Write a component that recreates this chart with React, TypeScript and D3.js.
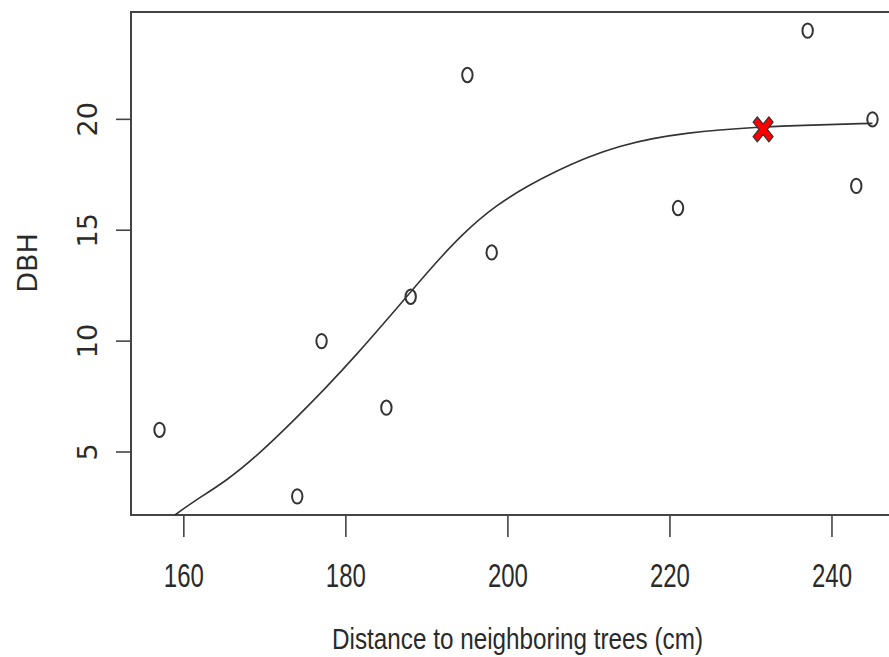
import React, { useEffect, useRef } from "react";
import * as d3 from "d3";

// observed points
const distance = [157, 174, 177, 185, 188, 195, 198, 221, 237, 243, 245];
const dbh = [6, 3, 10, 7, 12, 22, 14, 16, 24, 17, 20];

// fitted curve
const curveX = [158.9, 161.1, 165.3, 169.4, 173.5, 177.7, 181.7, 184.2, 187.5, 190.4, 194.4, 198.6, 202.7, 205.6, 209.8, 213.8, 217.9, 222.1, 226.2, 230.2, 236.0, 245.0];
const curveY = [2.16, 2.75, 3.7, 4.95, 6.4, 7.95, 9.55, 10.6, 12.0, 13.25, 14.85, 16.15, 17.05, 17.6, 18.3, 18.8, 19.15, 19.38, 19.53, 19.63, 19.73, 19.82];

// highlighted point
const markX = [231.5];
const markY = [19.55];

const xTicks = [160, 180, 200, 220, 240];
const yTicks = [5, 10, 15, 20];

const App = () => {
  const svgRef = useRef<SVGSVGElement>(null);

  useEffect(() => {
    const svg = d3.select(svgRef.current);
    svg.selectAll("*").remove();

    const left = 131, right = 901, top = 12, bottom = 515;
    const ink = "#2a2a2a";

    const x = d3.scaleLinear().domain([153.48, 248.52]).range([left, right]);
    const y = d3.scaleLinear().domain([2.16, 24.84]).range([bottom, top]);

    // box
    svg.append("rect")
      .attr("x", left).attr("y", top)
      .attr("width", right - left).attr("height", bottom - top)
      .attr("fill", "none").attr("stroke", "#444").attr("stroke-width", 2);

    // x axis
    const xa = svg.append("g");
    xa.selectAll("line").data(xTicks).join("line")
      .attr("x1", (d) => x(d)).attr("x2", (d) => x(d))
      .attr("y1", bottom).attr("y2", bottom + 22)
      .attr("stroke", "#444").attr("stroke-width", 1.6);
    xa.selectAll("text").data(xTicks).join("text")
      .attr("x", (d) => x(d) - 20).attr("y", 587)
      .attr("textLength", 40).attr("lengthAdjust", "spacingAndGlyphs")
      .attr("font-family", "Liberation Sans, Arial, sans-serif")
      .attr("font-size", 33).attr("fill", ink)
      .text((d) => d);

    // y axis
    const ya = svg.append("g");
    ya.selectAll("line").data(yTicks).join("line")
      .attr("x1", left - 15).attr("x2", left)
      .attr("y1", (d) => y(d)).attr("y2", (d) => y(d))
      .attr("stroke", "#444").attr("stroke-width", 1.6);
    ya.selectAll("text").data(yTicks).join("text")
      .attr("transform", (d) => `translate(97,${y(d)}) rotate(-90)`)
      .attr("text-anchor", "middle")
      .attr("font-family", "DejaVu Sans, sans-serif")
      .attr("font-size", 27).attr("fill", ink)
      .text((d) => d);

    // axis titles
    svg.append("text")
      .attr("x", 332).attr("y", 649)
      .attr("textLength", 371).attr("lengthAdjust", "spacingAndGlyphs")
      .attr("font-family", "Liberation Sans, Arial, sans-serif")
      .attr("font-size", 30).attr("fill", ink)
      .text("Distance to neighboring trees (cm)");
    svg.append("text")
      .attr("transform", "translate(37,263) rotate(-90)")
      .attr("text-anchor", "middle")
      .attr("font-family", "DejaVu Sans, sans-serif")
      .attr("font-size", 27).attr("fill", ink)
      .text("DBH");

    // curve
    const line = d3.line<number>()
      .x((d, i) => x(curveX[i]))
      .y((d) => y(d))
      .curve(d3.curveBasis);
    svg.append("path")
      .attr("d", line(curveY))
      .attr("fill", "none").attr("stroke", "#333").attr("stroke-width", 1.6);

    // points
    svg.append("g").selectAll("ellipse").data(distance).join("ellipse")
      .attr("cx", (d) => x(d)).attr("cy", (d, i) => y(dbh[i]))
      .attr("rx", 5.2).attr("ry", 7.2)
      .attr("fill", "none").attr("stroke", "#333").attr("stroke-width", 2);

    // red X marker
    const a = 10, b = 12.5, t = 0.42;
    const cross = [
      [-a, -b * (1 - t)], [-a * (1 - t), -b], [0, -b * t], [a * (1 - t), -b], [a, -b * (1 - t)],
      [a * t, 0], [a, b * (1 - t)], [a * (1 - t), b], [0, b * t], [-a * (1 - t), b],
      [-a, b * (1 - t)], [-a * t, 0],
    ];
    svg.append("g").selectAll("path").data(markX).join("path")
      .attr("transform", (d, i) => `translate(${x(d)},${y(markY[i])})`)
      .attr("d", "M" + cross.map((p) => p.join(",")).join("L") + "Z")
      .attr("fill", "#f00").attr("stroke", "#333").attr("stroke-width", 1.2)
      .attr("stroke-linejoin", "round");
  }, []);

  return (
    <svg
      ref={svgRef}
      width={889}
      height={657}
      style={{ position: "absolute", left: 0, top: 0, background: "#fff" }}
    ></svg>
  );
};

export default App;
